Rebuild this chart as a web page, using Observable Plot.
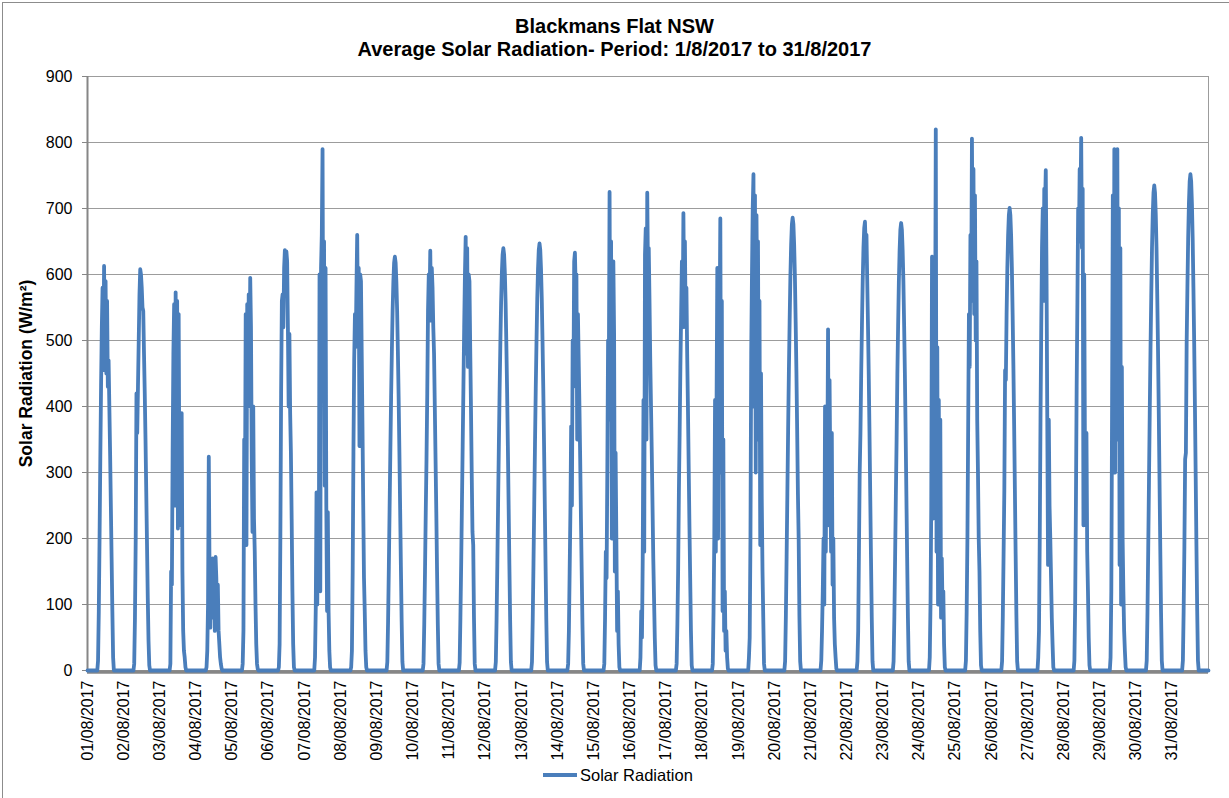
<!DOCTYPE html>
<html>
<head>
<meta charset="utf-8">
<script src="https://cdn.jsdelivr.net/npm/d3@7"></script>
<script src="https://cdn.jsdelivr.net/npm/@observablehq/plot@0.6"></script>
<style>
  body { margin: 0; background: #fff; font-family: "Liberation Sans", Arial, sans-serif; }
  #wrap { position: relative; width: 1229px; height: 798px; overflow: hidden; background: #fff; }
  #wrap svg { position: absolute; left: 0; top: 0; }
  #frameL { position: absolute; left: 2px; top: 2px; width: 1px; height: 796px; background: #8c8c8c; }
  #frameT { position: absolute; left: 2px; top: 2px; width: 1227px; height: 1px; background: #8c8c8c; }
  #title { position: absolute; left: 0; top: 15px; width: 1229px; text-align: center; font-weight: bold;
           font-size: 20px; line-height: 23px; color: #000; }
  #legend { position: absolute; left: 543px; top: 764px; height: 22px; display: flex; align-items: center;
            font-size: 16.5px; color: #000; }
  #legend .sw { width: 34px; height: 4px; background: #4a7ebb; margin-right: 3px; }
  g[aria-label="y-axis label"] text { font-weight: bold; font-size: 17.5px; }
</style>
</head>
<body>
<div id="wrap">
  <div id="frameL"></div>
  <div id="frameT"></div>
  <div id="title">Blackmans Flat NSW<br>Average Solar Radiation- Period: 1/8/2017 to 31/8/2017</div>
  <div id="legend"><div class="sw"></div><span>Solar Radiation</span></div>
</div>
<script>
// Day labels (category axis)
const dayLabels = [
  "01/08/2017","02/08/2017","03/08/2017","04/08/2017","05/08/2017","06/08/2017","07/08/2017",
  "08/08/2017","09/08/2017","10/08/2017","11/08/2017","12/08/2017","13/08/2017","14/08/2017",
  "15/08/2017","16/08/2017","17/08/2017","18/08/2017","19/08/2017","20/08/2017","21/08/2017",
  "22/08/2017","23/08/2017","24/08/2017","25/08/2017","26/08/2017","27/08/2017","28/08/2017",
  "29/08/2017","30/08/2017","31/08/2017"
];
// Y-axis tick values (W/m²)
const yTicks = [0, 100, 200, 300, 400, 500, 600, 700, 800, 900];
// Daytime reading times (hour of day), half-hourly 06:30 – 17:30
const readingHours = [6.5, 7, 7.5, 8, 8.5, 9, 9.5, 10, 10.5, 11, 11.5, 12, 12.5, 13, 13.5, 14, 14.5, 15, 15.5, 16, 16.5, 17, 17.5];
// Night readings at the start and end of the period (hour since 1/8 00:00)
const nightHours = [0, 744];
const nightValues = [0, 0];
// Daytime solar radiation (W/m²), one row per day
const dailyRadiation = [
  [0, 15, 90, 200, 320, 430, 520, 580, 455, 613, 470, 590, 450, 560, 430, 470, 400, 330, 250, 170, 90, 20, 0],   // 01
  [0, 10, 80, 200, 420, 360, 430, 500, 570, 608, 600, 580, 550, 545, 480, 420, 350, 270, 190, 110, 45, 8, 0],    // 02
  [0, 10, 150, 130, 330, 480, 555, 250, 573, 300, 560, 215, 540, 280, 390, 220, 390, 150, 60, 30, 20, 5, 0],     // 03
  [0, 5, 30, 100, 324, 150, 65, 150, 80, 170, 100, 165, 60, 172, 140, 70, 130, 60, 40, 20, 10, 3, 0],            // 04
  [0, 10, 60, 350, 250, 540, 190, 555, 400, 570, 450, 595, 520, 320, 210, 400, 230, 180, 100, 40, 10, 2, 0],     // 05
  [0, 5, 40, 200, 420, 560, 570, 520, 610, 637, 580, 635, 620, 520, 400, 510, 390, 330, 230, 120, 40, 5, 0],     // 06
  [0, 20, 95, 270, 100, 260, 140, 600, 120, 610, 660, 790, 420, 650, 280, 610, 250, 90, 240, 90, 30, 5, 0],      // 07
  [0, 5, 30, 150, 330, 470, 540, 490, 580, 660, 520, 610, 340, 600, 590, 480, 370, 250, 140, 90, 30, 5, 0],      // 08
  [0, 13, 75, 157, 245, 332, 414, 483, 545, 589, 618, 627, 618, 589, 545, 483, 414, 332, 245, 157, 75, 13, 0],   // 09
  [0, 10, 70, 150, 240, 320, 420, 545, 600, 560, 636, 530, 610, 580, 520, 480, 400, 320, 240, 150, 70, 10, 0],   // 10
  [0, 12, 80, 160, 250, 340, 430, 520, 600, 657, 480, 640, 460, 600, 590, 490, 400, 300, 210, 190, 80, 10, 0],   // 11
  [0, 13, 77, 160, 250, 339, 422, 493, 557, 602, 630, 640, 630, 602, 557, 493, 422, 339, 250, 160, 77, 13, 0],   // 12
  [0, 13, 78, 162, 252, 343, 427, 498, 563, 608, 637, 647, 637, 608, 563, 498, 427, 343, 252, 162, 78, 13, 0],   // 13
  [0, 10, 60, 150, 240, 370, 250, 500, 430, 620, 633, 580, 600, 350, 540, 470, 400, 320, 230, 150, 70, 10, 0],   // 14
  [0, 10, 80, 180, 140, 300, 500, 450, 725, 380, 650, 200, 540, 620, 510, 150, 330, 200, 60, 120, 40, 5, 0],     // 15
  [0, 20, 90, 50, 170, 410, 180, 630, 670, 350, 724, 600, 640, 560, 470, 400, 330, 250, 170, 110, 50, 8, 0],     // 16
  [0, 10, 70, 150, 270, 360, 460, 540, 620, 520, 693, 560, 650, 520, 580, 480, 400, 310, 220, 140, 60, 8, 0],    // 17
  [0, 10, 90, 200, 410, 180, 400, 610, 200, 600, 520, 685, 300, 560, 90, 350, 60, 120, 30, 60, 20, 3, 0],        // 18
  [0, 20, 50, 200, 480, 600, 700, 752, 400, 720, 300, 690, 550, 650, 350, 560, 190, 450, 260, 150, 80, 10, 0],   // 19
  [0, 14, 82, 172, 268, 364, 453, 528, 597, 645, 676, 686, 676, 645, 597, 528, 453, 364, 268, 200, 82, 14, 0],   // 20
  [0, 15, 60, 120, 200, 100, 400, 180, 350, 300, 517, 220, 440, 300, 180, 360, 130, 200, 80, 40, 20, 3, 0],      // 21
  [0, 14, 60, 180, 300, 360, 450, 523, 590, 640, 670, 680, 640, 660, 592, 523, 449, 361, 265, 170, 81, 14, 0],   // 22
  [0, 14, 81, 170, 264, 350, 448, 522, 590, 637, 668, 678, 668, 637, 590, 522, 448, 359, 264, 170, 81, 14, 0],   // 23
  [0, 20, 100, 250, 627, 230, 500, 260, 440, 820, 180, 490, 100, 410, 160, 380, 80, 170, 90, 120, 40, 5, 0],     // 24
  [0, 15, 90, 200, 370, 540, 460, 660, 560, 806, 600, 760, 540, 720, 500, 620, 380, 300, 200, 150, 60, 8, 0],    // 25
  [0, 14, 84, 176, 274, 455, 440, 540, 610, 659, 690, 701, 690, 659, 610, 540, 463, 372, 274, 176, 84, 14, 0],   // 26
  [0, 20, 60, 200, 380, 520, 640, 700, 560, 730, 700, 758, 600, 380, 160, 380, 250, 200, 140, 80, 40, 5, 0],     // 27
  [0, 15, 100, 250, 430, 560, 700, 650, 760, 700, 807, 640, 730, 220, 600, 330, 220, 360, 180, 120, 50, 8, 0],   // 28
  [0, 20, 120, 400, 720, 310, 790, 300, 780, 640, 790, 350, 700, 160, 640, 100, 460, 200, 120, 60, 30, 5, 0],    // 29
  [0, 15, 88, 184, 287, 390, 485, 566, 640, 691, 724, 735, 724, 691, 640, 566, 485, 390, 287, 184, 88, 15, 0],   // 30
  [0, 15, 90, 188, 320, 330, 495, 579, 654, 707, 741, 752, 741, 707, 654, 579, 496, 399, 294, 188, 90, 15, 0]    // 31
];

// Build the time series table
const rows = [{hour: nightHours[0], value: nightValues[0]}];
dailyRadiation.forEach((vals, d) => {
  vals.forEach((v, i) => rows.push({hour: d * 24 + readingHours[i], value: v}));
});
rows.push({hour: nightHours[1], value: nightValues[1]});

const dayTicks = dayLabels.map((_, i) => i * 24);

const chart = Plot.plot({
  width: 1229,
  height: 798,
  marginTop: 76,
  marginBottom: 128,
  marginLeft: 87,
  marginRight: 21,
  style: {fontFamily: '"Liberation Sans", Arial, sans-serif', fontSize: "16px", color: "#000", background: "transparent"},
  x: {type: "linear", domain: [0, 744]},
  y: {domain: [0, 900]},
  marks: [
    Plot.gridY(yTicks, {stroke: "#9c9c9c", strokeOpacity: 1, strokeWidth: 1}),
    Plot.ruleX([744], {stroke: "#9c9c9c", strokeWidth: 1}),
    Plot.ruleX([0], {stroke: "#868686", strokeWidth: 2}),
    Plot.axisY(yTicks, {tickSize: 5, tickPadding: 10, stroke: "#868686", fill: "#000",
      label: "Solar Radiation (W/m²)", labelAnchor: "center", labelOffset: 68, labelArrow: "none"}),
    Plot.axisX(dayTicks, {tickSize: 0, tickPadding: 10, tickRotate: -90, fill: "#000",
      tickFormat: (h) => dayLabels[Math.round(h / 24)], label: null}),
    Plot.ruleY([0], {stroke: "#868686", strokeWidth: 3.5, dy: 1.5}),
    Plot.line(rows, {x: "hour", y: "value", stroke: "#4a7ebb", strokeWidth: 3.8,
      strokeLinejoin: "round", strokeLinecap: "round"})
  ]
});
document.getElementById("wrap").prepend(chart);
</script>
</body>
</html>
